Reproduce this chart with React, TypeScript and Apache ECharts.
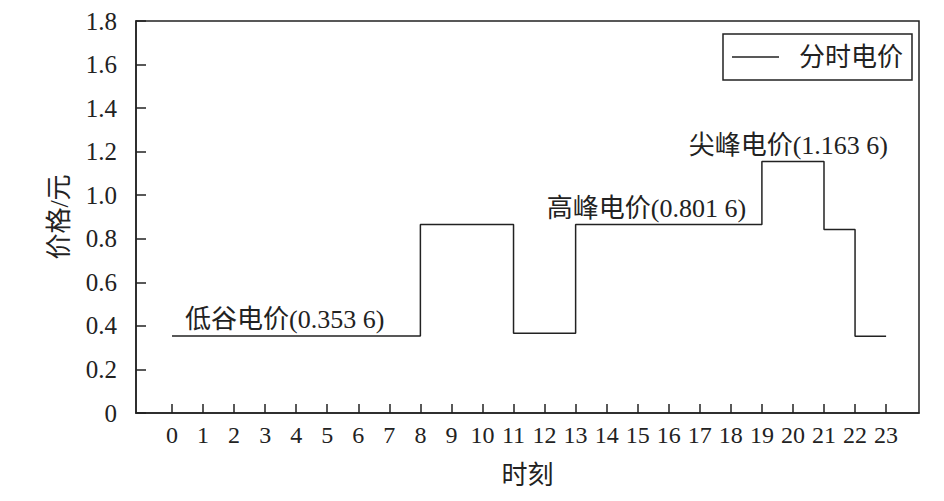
import { useEffect, useRef } from 'react';
import * as echarts from 'echarts';

// hour at which each price level starts, and the level
const stepHours = [0, 8, 11, 13, 19, 21, 22, 23];
const stepPrices = [0.3536, 0.866, 0.366, 0.866, 1.155, 0.843, 0.352, 0.352];

const hourTicks = Array.from({ length: 24 }, (_, i) => i);

const noteTexts = ['低谷电价(0.353 6)', '高峰电价(0.801 6)', '尖峰电价(1.163 6)'];
const noteHours = [0.42, 12.07, 16.64];
const notePrices = [0.3536, 0.866, 1.155];

const FONT = "'Liberation Serif', 'Times New Roman', 'Noto Sans CJK SC', serif";
const INK = '#222';

export default function App() {
  const ref = useRef<HTMLDivElement>(null);

  useEffect(() => {
    if (!ref.current) return;
    const chart = echarts.init(ref.current, undefined, { renderer: 'svg' });

    chart.setOption({
      animation: false,
      textStyle: { fontFamily: FONT, color: INK },
      grid: {
        left: 136,
        right: 25,
        top: 21,
        bottom: 88,
        show: true,
        borderColor: INK,
        borderWidth: 1.5,
        backgroundColor: 'transparent',
      },
      legend: {
        right: 32,
        top: 34,
        icon: 'rect',
        itemWidth: 47,
        itemHeight: 1.5,
        padding: [10, 9, 10, 9],
        borderColor: INK,
        borderWidth: 1.5,
        borderRadius: 0,
        textStyle: { fontSize: 26, fontFamily: FONT, color: INK, padding: [0, 0, 0, 15] },
        data: ['分时电价'],
      },
      xAxis: {
        type: 'value',
        min: -1.16,
        max: 24.06,
        name: '时刻',
        nameLocation: 'middle',
        nameGap: 49,
        nameTextStyle: { fontSize: 26, fontFamily: FONT, color: INK },
        splitLine: { show: false },
        axisLine: { show: true, onZero: false, lineStyle: { color: INK, width: 1.5 } },
        axisTick: {
          show: true,
          inside: true,
          length: 9,
          customValues: hourTicks,
          lineStyle: { color: INK, width: 1.5 },
        },
        axisLabel: {
          fontSize: 24,
          fontFamily: FONT,
          color: INK,
          margin: 10,
          customValues: hourTicks,
        },
      },
      yAxis: {
        type: 'value',
        min: 0,
        max: 1.8,
        interval: 0.2,
        name: '价格/元',
        nameLocation: 'middle',
        nameGap: 64,
        nameTextStyle: { fontSize: 26, fontFamily: FONT, color: INK },
        splitLine: { show: false },
        axisLine: { show: true, onZero: false, lineStyle: { color: INK, width: 1.5 } },
        axisTick: { show: true, inside: true, length: 10, lineStyle: { color: INK, width: 1.5 } },
        axisLabel: {
          fontSize: 25,
          fontFamily: FONT,
          color: INK,
          margin: 19,
          formatter: (v: number) => (v === 0 ? '0' : v.toFixed(1)),
        },
      },
      series: [
        {
          name: '分时电价',
          type: 'line',
          step: 'end',
          symbol: 'none',
          lineStyle: { color: INK, width: 1.5 },
          itemStyle: { color: INK },
          data: stepHours.map((h, i) => [h, stepPrices[i]]),
          markPoint: {
            symbol: 'rect',
            symbolSize: 0,
            itemStyle: { color: 'transparent' },
            label: {
              show: true,
              position: 'top',
              align: 'left',
              distance: 3,
              fontSize: 26,
              fontFamily: FONT,
              color: INK,
            },
            data: noteTexts.map((t, i) => ({
              coord: [noteHours[i], notePrices[i]],
              label: { formatter: t },
            })),
          },
        },
      ],
    });

    return () => chart.dispose();
  }, []);

  return (
    <div
      ref={ref}
      style={{ position: 'fixed', left: 0, top: 0, width: 944, height: 501, background: '#fff' }}
    />
  );
}
